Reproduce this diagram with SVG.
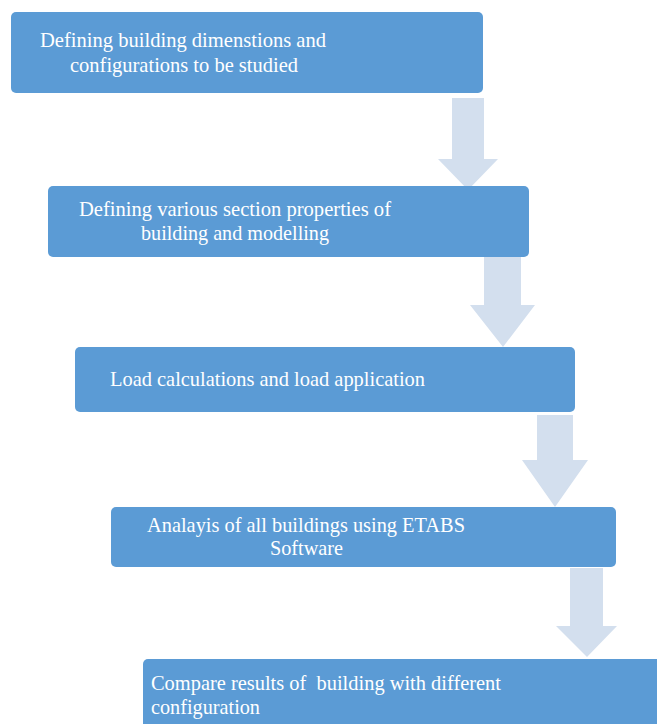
<svg xmlns="http://www.w3.org/2000/svg" width="657" height="724" viewBox="0 0 657 724">
<style>
.box{fill:#5B9BD5;}
.arr{fill:#D3DFEE;}
.t{font-family:'Liberation Serif','Times New Roman',serif;font-size:22px;fill:#FFFFFF;white-space:pre;}
</style>
<rect width="657" height="724" fill="#FFFFFF"/>
<g id="connectors">
<path class="arr" d="M452,98 H484 V159 H498 L468,190 L438,159 H452 Z"/>
<path class="arr" d="M484,257 H521 V305 H535 L503,347 L470,305 H484 Z"/>
<path class="arr" d="M537,415 H573 V460 H588 L555,507 L522,460 H537 Z"/>
<path class="arr" d="M570,568 H603 V626 H617 L587,657 L556,626 H570 Z"/>
</g>
<g id="n1">
<rect class="box" x="11" y="12" width="472" height="81" rx="5"/>
<text class="t" x="40" y="47" textLength="286" lengthAdjust="spacingAndGlyphs">Defining building dimenstions and</text>
<text class="t" x="70" y="72" textLength="228" lengthAdjust="spacingAndGlyphs">configurations to be studied</text>
</g>
<g id="n2">
<rect class="box" x="48" y="186" width="481" height="71" rx="5"/>
<text class="t" x="79" y="216" textLength="312" lengthAdjust="spacingAndGlyphs">Defining various section properties of</text>
<text class="t" x="141" y="240" textLength="188" lengthAdjust="spacingAndGlyphs">building and modelling</text>
</g>
<g id="n3">
<rect class="box" x="75" y="347" width="500" height="65" rx="5"/>
<text class="t" x="110" y="386" textLength="315" lengthAdjust="spacingAndGlyphs">Load calculations and load application</text>
</g>
<g id="n4">
<rect class="box" x="111" y="507" width="505" height="60" rx="5"/>
<text class="t" x="147" y="532" textLength="318" lengthAdjust="spacingAndGlyphs">Analayis of all buildings using ETABS</text>
<text class="t" x="270" y="555" textLength="73" lengthAdjust="spacingAndGlyphs">Software</text>
</g>
<g id="n5">
<rect class="box" x="143" y="659" width="520" height="70" rx="5"/>
<text class="t" x="151" y="690" textLength="350" lengthAdjust="spacingAndGlyphs" xml:space="preserve">Compare results of  building with different</text>
<text class="t" x="151" y="714" textLength="109" lengthAdjust="spacingAndGlyphs">configuration</text>
</g>
</svg>
